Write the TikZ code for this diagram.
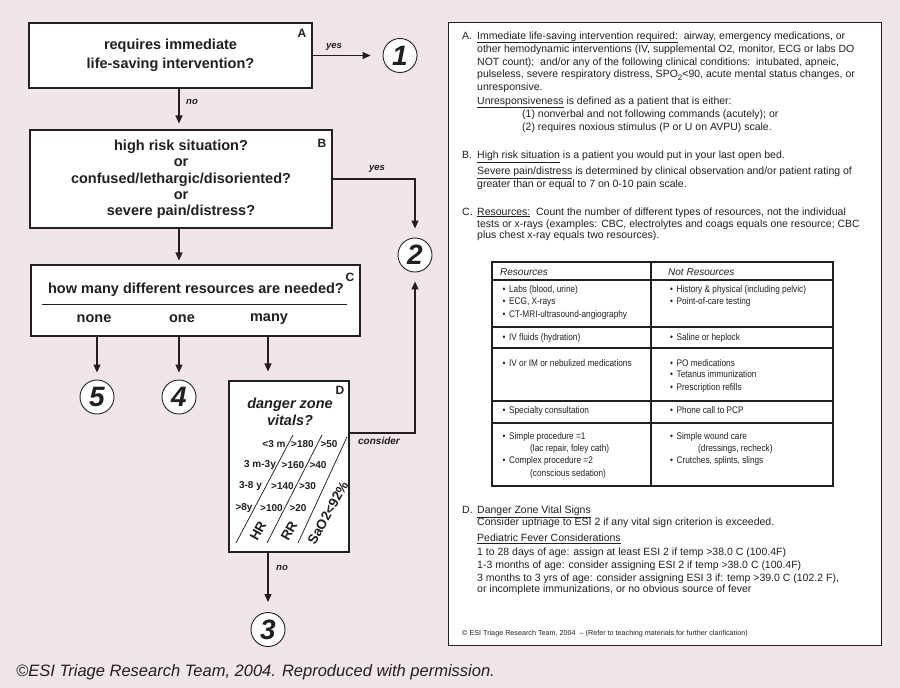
\documentclass[tikz,border=0pt]{standalone}
\usepackage{fontspec}
\usepackage{graphicx}
\setmainfont{Liberation Sans}
\usetikzlibrary{arrows.meta,calc}
\definecolor{bg}{RGB}{240,229,231}
\definecolor{ink}{RGB}{35,31,32}
\newcommand{\fsz}[2]{\fontsize{#1}{#2}\selectfont}
\newcommand{\cz}[1]{\scalebox{0.86}[1]{#1}}
\newcommand{\tbul}[1]{\cz{\makebox[7.5pt][l]{•}#1}}
\tikzset{
 box/.style={draw=ink, line width=1.1pt, fill=white, inner sep=0pt},
 qtext/.style={font=\fsz{14.5}{16.3}\bfseries, text=ink, align=center, inner sep=0},
 lbl/.style={font=\fsz{12}{12}\bfseries, text=ink, inner sep=0},
 num/.style={circle, draw=ink, line width=0.9pt, fill=white, minimum size=34pt, inner sep=0, font=\fsz{28}{28}\bfseries\itshape, text=ink},
 arr/.style={draw=ink, line width=1.1pt, -{Triangle[length=8pt,width=7pt]}},
 tag/.style={font=\fsz{9.5}{9.5}\bfseries\itshape, text=ink, inner sep=0},
 txt/.style={font=\fsz{10.5}{12.75}, text=ink, anchor=base west, inner sep=0},
 tb/.style={font=\fsz{9.6}{10}, text=ink, anchor=base west, inner sep=0},
 tbh/.style={font=\fsz{10}{10}\itshape, text=ink, anchor=base west, inner sep=0},
 vit/.style={font=\fsz{10}{10}\bfseries, text=ink, inner sep=0},
 vrot/.style={font=\fsz{13.5}{13.5}\bfseries, text=ink, inner sep=0, rotate=61},
 vline/.style={draw=ink, line width=0.75pt},
}
\begin{document}
\begin{tikzpicture}[x=1pt,y=-1pt]
\fill[bg] (0,0) rectangle (900,688);
\useasboundingbox (0,0) rectangle (900,688);

% ---------- flowchart ----------
\coordinate (colx) at (179,0);
\coordinate (colm) at (268,0);
\coordinate (cy) at (0,433);

\node[box, minimum width=283pt, minimum height=65pt] (A) at (170.5,55.5) {};
\node[qtext, font=\fsz{14.5}{19}\bfseries] (Atext) at (170.5,55.5) {requires immediate\\life-saving intervention?};
\node[lbl] (Alab) at (302,33) {A};

\node[num] (c1) at (400,55.5) {1};

\node[box, minimum width=302pt, minimum height=98pt] (B) at (181,179) {};
\node[qtext] (Btext) at (181,179.5) {high risk situation?\\or\\confused/lethargic/disoriented?\\or\\severe pain/distress?};
\node[lbl] (Blab) at (322,143) {B};

\node[num] (c2) at (415,255) {2};

\node[box, minimum width=329pt, minimum height=71pt] (C) at (195.5,300.5) {};
\node[qtext] (Cq) at (196,290) {how many different resources are needed?};
\draw[draw=ink, line width=0.9pt] (42,304) -- (347,304);
\node[qtext] (Cnone) at (94,319) {none};
\node[qtext] (Cone) at (182,319) {one};
\node[qtext] (Cmany) at (269,319) {many};
\node[lbl] (Clab) at (350,277) {C};

\node[num] (c5) at (97,397) {5};
\node[num] (c4) at (179,397) {4};

\node[box, minimum width=120pt, minimum height=171pt] (D) at (289,466.5) {};
\node[qtext, font=\fsz{14.5}{16.5}\bfseries\itshape] (Dq) at (290,412) {danger zone\\vitals?};
\node[lbl] (Dlab) at (340,390) {D};

\node[vit] (v11) at (274,444) {<3 m};
\node[vit] (v12) at (302.5,444) {>180};
\node[vit] (v13) at (329,444) {>50};
\node[vit] (v21) at (260,465) {3 m-3y};
\node[vit] (v22) at (293,465) {>160};
\node[vit] (v23) at (318,465) {>40};
\node[vit] (v31) at (250.5,486) {3-8 y};
\node[vit] (v32) at (282.5,486) {>140};
\node[vit] (v33) at (307.5,486) {>30};
\node[vit] (v41) at (244,508) {>8y};
\node[vit] (v42) at (271.5,508) {>100};
\node[vit] (v43) at (298,508) {>20};
\draw[vline] (236,543) -- (293,435);
\draw[vline] (267,543) -- (322,435);
\draw[vline] (298,543) -- (347,437);
\node[vrot] (hr) at (258,531) {HR};
\node[vrot] (rr) at (289,531) {RR};
\node[vrot] (sao) at (328,513) {SaO2<92\%};

\node[num] (c3) at (268,629.5) {3};

% connectors
\draw[arr, shorten >=12pt] (A.east) -- (c1.west);
\node[tag] (yes1) at (334,47) {yes};
\draw[arr, shorten >=6pt] (A.south -| colx) -- (B.north -| colx);
\node[tag] (no1) at (192,102) {no};
\draw[arr, shorten >=9pt] (B.east) -| (c2);
\node[tag] (yes2) at (377,169) {yes};
\draw[arr, shorten >=4pt] (B.south -| colx) -- (C.north -| colx);
\draw[arr, shorten >=7pt] (C.south -| c5) -- (c5);
\draw[arr, shorten >=7pt] (C.south -| c4) -- (c4);
\draw[arr, shorten >=9pt] (C.south -| colm) -- (D.north -| colm);
\draw[arr, shorten >=9pt] (D.east |- cy) -| (c2);
\node[tag, font=\fsz{10}{10}\bfseries\itshape] (cons) at (379,441) {consider};
\draw[arr, shorten >=10pt] (D.south -| colm) -- (c3);
\node[tag] (no2) at (282,568) {no};

% footer
\node[font=\fsz{16.5}{16.5}\itshape, text=ink, anchor=west, inner sep=0] (foot) at (16,672) {©ESI Triage Research Team, 2004. Reproduced with permission.};

% ---------- right panel ----------
\node[draw=ink, line width=1.3pt, fill=white, minimum width=433pt, minimum height=623pt, anchor=north west, inner sep=0] (P) at (448,22) {};

\node[txt] (tA) at (462,39) {A.};
\node[txt] (tA1) at (477,39) {\underline{Immediate life-saving intervention required:}\ \ airway, emergency medications, or};
\node[txt] (tA2) at (477,52) {other hemodynamic interventions (IV, supplemental O2, monitor, ECG or labs DO};
\node[txt] (tA3) at (477,65) {NOT count);\ \ and/or any of the following clinical conditions:\ \ intubated, apneic,};
\node[txt] (tA4) at (477,77.5) {pulseless, severe respiratory distress, SPO\raisebox{-2.5pt}{\fsz{8}{8}2}<90, acute mental status changes, or};
\node[txt] (tA5) at (477,90) {unresponsive.};
\node[txt] (tA6) at (477,104) {\underline{Unresponsiveness} is defined as a patient that is either:};
\node[txt] (tA7) at (522,117.5) {(1) nonverbal and not following commands (acutely); or};
\node[txt] (tA8) at (522,130) {(2) requires noxious stimulus (P or U on AVPU) scale.};

\node[txt] (tB) at (462,158.5) {B.};
\node[txt] (tB1) at (477,158.5) {\underline{High risk situation} is a patient you would put in your last open bed.};
\node[txt] (tB2) at (477,174.5) {\underline{Severe pain/distress} is determined by clinical observation and/or patient rating of};
\node[txt] (tB3) at (477,187) {greater than or equal to 7 on 0-10 pain scale.};

\node[txt] (tC) at (462,215) {C.};
\node[txt] (tC1) at (477,215) {\underline{Resources:}\ \ Count the number of different types of resources, not the individual};
\node[txt] (tC2) at (477,227) {tests or x-rays (examples: CBC, electrolytes and coags equals one resource; CBC};
\node[txt] (tC3) at (477,238.5) {plus chest x-ray equals two resources).};

% table
\draw[draw=ink, line width=1.1pt] (492,262) rectangle (833,486);
\foreach \yy in {280,327,348,401,423} \draw[draw=ink, line width=1.1pt] (492,\yy) -- (833,\yy);
\draw[draw=ink, line width=1.1pt] (651,262) -- (651,486);

\node[tbh] (h1) at (500,275.5) {Resources};
\node[tbh] (h2) at (668,275.5) {Not Resources};

\node[tb] (r11) at (502.5,292.3) {\tbul{Labs (blood, urine)}};
\node[tb] (r12) at (502.5,304.7) {\tbul{ECG, X-rays}};
\node[tb] (r13) at (502.5,317) {\tbul{CT-MRI-ultrasound-angiography}};
\node[tb] (n11) at (670,292.3) {\tbul{History \& physical (including pelvic)}};
\node[tb] (n12) at (670,304.7) {\tbul{Point-of-care testing}};

\node[tb] (r21) at (502.5,340.3) {\tbul{IV fluids (hydration)}};
\node[tb] (n21) at (670,340.3) {\tbul{Saline or heplock}};

\node[tb] (r31) at (502.5,366.3) {\tbul{IV or IM or nebulized medications}};
\node[tb] (n31) at (670,366.3) {\tbul{PO medications}};
\node[tb] (n32) at (670,377.8) {\tbul{Tetanus immunization}};
\node[tb] (n33) at (670,390.7) {\tbul{Prescription refills}};

\node[tb] (r41) at (502.5,413.7) {\tbul{Specialty consultation}};
\node[tb] (n41) at (670,413.7) {\tbul{Phone call to PCP}};

\node[tb] (r51) at (502.5,439) {\tbul{Simple procedure =1}};
\node[tb] (r52) at (530,451.3) {\cz{(lac repair, foley cath)}};
\node[tb] (r53) at (502.5,463.7) {\tbul{Complex procedure =2}};
\node[tb] (r54) at (530,476.3) {\cz{(conscious sedation)}};
\node[tb] (n51) at (670,439) {\tbul{Simple wound care}};
\node[tb] (n52) at (698,451.3) {\cz{(dressings, recheck)}};
\node[tb] (n53) at (670,463.7) {\tbul{Crutches, splints, slings}};

% D section
\node[txt] (tD) at (462,513.5) {D.};
\node[txt] (tD1) at (477,513.5) {\underline{Danger Zone Vital Signs}};
\node[txt] (tD2) at (477,525) {Consider uptriage to ESI 2 if any vital sign criterion is exceeded.};
\node[txt] (tD3) at (477,541.5) {\underline{Pediatric Fever Considerations}};
\node[txt] (tD4) at (477,555) {1 to 28 days of age: assign at least ESI 2 if temp >38.0 C (100.4F)};
\node[txt] (tD5) at (477,568.5) {1-3 months of age: consider assigning ESI 2 if temp >38.0 C (100.4F)};
\node[txt] (tD6) at (477,581.5) {3 months to 3 yrs of age: consider assigning ESI 3 if: temp >39.0 C (102.2 F),};
\node[txt] (tD7) at (477,592) {or incomplete immunizations, or no obvious source of fever};

\node[txt, font=\fsz{7.2}{8}] (tF) at (462,635.5) {© ESI Triage Research Team, 2004\ \ – (Refer to teaching materials for further clarification)};
\end{tikzpicture}
\end{document}
